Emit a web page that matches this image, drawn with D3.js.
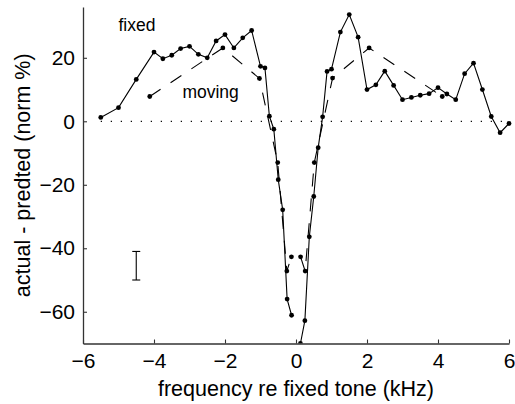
<!DOCTYPE html>
<html><head><meta charset="utf-8">
<script src="https://cdn.jsdelivr.net/npm/d3@7"></script>
<style>
html,body{margin:0;padding:0;background:#fff;}
text{font-family:"Liberation Sans",Arial,sans-serif;fill:#000;}
</style></head>
<body>
<svg id="chart" width="515" height="404"></svg>
<script>
// fixed-tone series (kHz re fixed tone, norm %)
const fixedX = [-5.5,-5,-4.5,-4,-3.75,-3.5,-3.25,-3,-2.75,-2.5,-2.25,-2,-1.75,-1.5,-1.25,-1,-0.875,-0.75,-0.625,-0.5,-0.375,-0.25,-0.125,0,0.125,0.25,0.375,0.5,0.625,0.75,0.875,1,1.25,1.5,1.75,2,2.25,2.5,2.75,3,3.25,3.5,3.75,4,4.25,4.5,4.75,5,5.25,5.5,5.75,6];
const fixedY = [1.2,4.3,13.2,21.8,19.7,20.8,22.9,23.6,21.1,20.0,25.3,27.3,23.1,26.3,28.6,17.3,16.8,1.6,-2.5,-18.4,-27.9,-56.0,-61.1,null,-70,-62.8,-36.4,-23.7,-8.3,1.4,15.7,16.4,28.1,33.6,26.5,10.0,11.5,15.8,11.3,6.8,7.5,8.2,8.7,10.6,8.6,6.8,15.0,18.3,10.0,1.5,-3.6,-0.7];
// moving-tone series
const movingX = [-4.12,-2.06,-1.03,-0.515,-0.258,-0.129,0,0.129,0.258,0.515,1.03,2.06,4.12];
const movingY = [7.8,23.1,13.5,-13,-47.2,-42.7,null,-42.7,-47.2,-13,13.6,23.1,7.8];
// error bar
const errX = [-4.5];
const errLo = [-50];
const errHi = [-41];
const xTicks = [-6,-4,-2,0,2,4,6];
const yTicks = [-60,-40,-20,0,20];
const xDomain = [-6,6];
const yDomain = [-70,36];
const labels = [{text:"fixed",x:-5.0,y:28.5},{text:"moving",x:-3.2,y:7.3}];

const svg = d3.select("#chart");
const m = {l:83,r:6,t:7,b:60.5};
const W = 515, H = 404;
const x = d3.scaleLinear().domain(xDomain).range([m.l, W-m.r]);
const y = d3.scaleLinear().domain(yDomain).range([H-m.b, m.t]);

const clip = svg.append("clipPath").attr("id","clip").append("rect")
  .attr("x",m.l).attr("y",m.t-3).attr("width",W-m.r-m.l+3).attr("height",H-m.b-m.t+3);

// zero dotted line
svg.append("line")
  .attr("x1",x(fixedX[0])).attr("x2",x(fixedX[fixedX.length-1]))
  .attr("y1",y(0)).attr("y2",y(0))
  .attr("stroke","#000").attr("stroke-width",1.2).attr("stroke-dasharray","1.2,8.8");

const g = svg.append("g").attr("clip-path","url(#clip)");

const fixed = fixedX.map((v,i)=>({x:v,y:fixedY[i]}));
const moving = movingX.map((v,i)=>({x:v,y:movingY[i]}));
const line = d3.line().defined(d=>d.y!==null).x(d=>x(d.x)).y(d=>y(d.y));

g.append("path").datum(moving).attr("d",line).attr("fill","none")
  .attr("stroke","#000").attr("stroke-width",1.1).attr("stroke-dasharray","13,12");
g.append("path").datum(fixed).attr("d",line).attr("fill","none")
  .attr("stroke","#000").attr("stroke-width",1.1);

g.selectAll("circle.f").data(fixed.filter(d=>d.y!==null)).join("circle")
  .attr("cx",d=>x(d.x)).attr("cy",d=>y(d.y)).attr("r",2.4).attr("fill","#000");
g.selectAll("circle.m").data(moving.filter(d=>d.y!==null)).join("circle")
  .attr("cx",d=>x(d.x)).attr("cy",d=>y(d.y)).attr("r",2.4).attr("fill","#000");

// error bar
errX.forEach((ex,i)=>{
  const eg = svg.append("g").attr("stroke","#000").attr("stroke-width",1.1);
  eg.append("line").attr("x1",x(ex)).attr("x2",x(ex)).attr("y1",y(errLo[i])).attr("y2",y(errHi[i]));
  eg.append("line").attr("x1",x(ex)-4).attr("x2",x(ex)+4).attr("y1",y(errLo[i])).attr("y2",y(errLo[i]));
  eg.append("line").attr("x1",x(ex)-4).attr("x2",x(ex)+4).attr("y1",y(errHi[i])).attr("y2",y(errHi[i]));
});

// axes
const xAxis = d3.axisBottom(x).tickValues(xTicks).tickSizeInner(-4).tickSizeOuter(0).tickPadding(10);
const yAxis = d3.axisLeft(y).tickValues(yTicks).tickSizeInner(-4).tickSizeOuter(0).tickPadding(8);
const gx = svg.append("g").attr("transform",`translate(0,${H-m.b})`).call(xAxis);
const gy = svg.append("g").attr("transform",`translate(${m.l},0)`).call(yAxis);
[gx,gy].forEach(a=>{
  a.select(".domain").attr("stroke","#333").attr("stroke-width",1.3);
  a.selectAll(".tick line").attr("stroke","#333").attr("stroke-width",1.1);
  a.selectAll(".tick text").attr("font-size",21).attr("font-family","Liberation Sans, Arial, sans-serif").attr("fill","#000");
});

// axis labels
svg.append("text").attr("x",(m.l+W-m.r)/2).attr("y",396).attr("text-anchor","middle")
  .attr("font-size",21.5).text("frequency re fixed tone (kHz)");
svg.append("text").attr("transform",`translate(30,${(m.t+H-m.b)/2}) rotate(-90)`)
  .attr("text-anchor","middle").attr("font-size",21.5).text("actual - predted (norm %)");

labels.forEach(l=>{
  svg.append("text").attr("x",x(l.x)).attr("y",y(l.y)).attr("font-size",17.5).text(l.text);
});
</script>
</body></html>
